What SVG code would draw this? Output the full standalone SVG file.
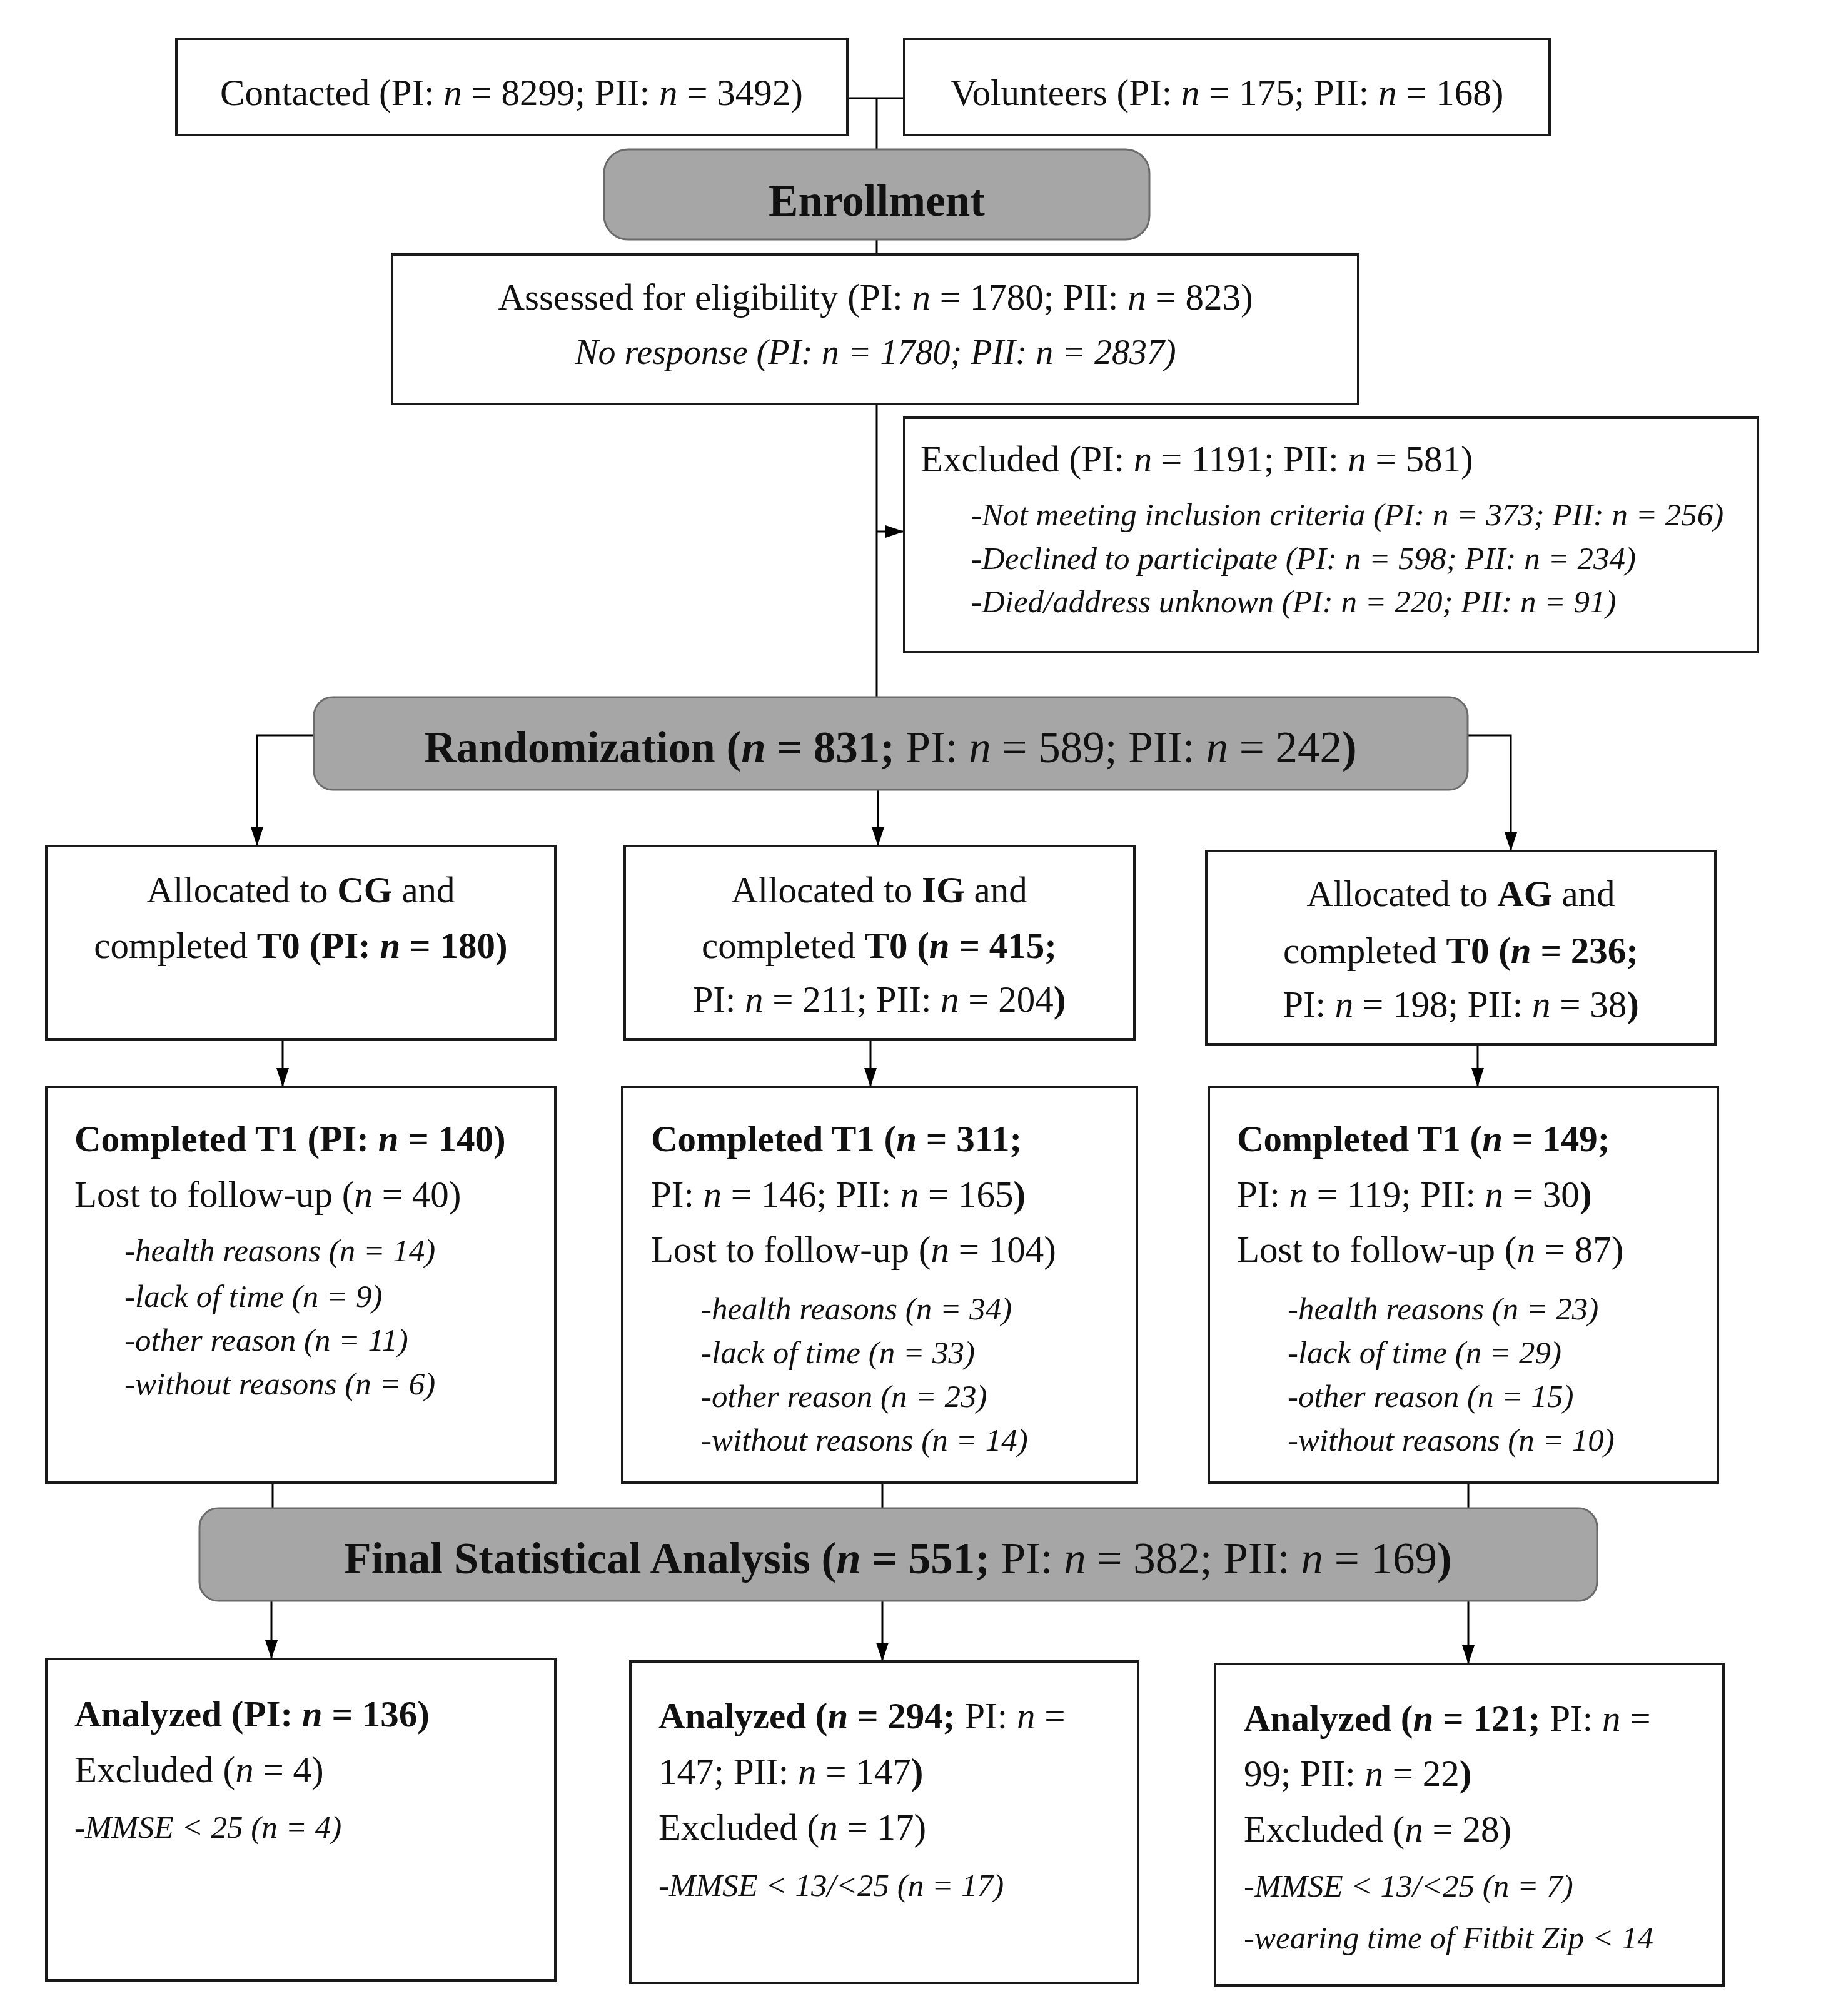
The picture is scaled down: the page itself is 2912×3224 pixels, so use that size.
<svg xmlns="http://www.w3.org/2000/svg" width="2912" height="3224" viewBox="0 0 2912 3224">
<style>
.box{fill:#fff;stroke:#1a1a1a;stroke-width:4}
.phase{fill:#a6a6a6;stroke:#6b6b6b;stroke-width:3}
.t{font-family:"Liberation Serif","Times New Roman",serif;font-size:59px;fill:#111}
.c{text-anchor:middle}
.s{font-size:51px;font-style:italic}
.h{font-size:71px;font-weight:bold}
.b{font-weight:bold}
.i{font-style:italic}
.r{font-weight:normal}
.ln{stroke:#000;stroke-width:3;fill:none}
.ar{marker-end:url(#arr)}
</style>
<defs>
<marker id="arr" viewBox="0 0 30 20" refX="30" refY="10" markerWidth="30" markerHeight="20" markerUnits="userSpaceOnUse" orient="auto">
<path d="M0,0 L30,10 L0,20 z" fill="#000"/>
</marker>
</defs>
<rect width="2912" height="3224" fill="#fff"/>
<g id="connectors">
<path class="ln" d="M1355,157 H1446"/>
<path class="ln" d="M1402,157 V1115"/>
<path class="ln ar" d="M1402,850 H1446"/>
<path class="ln ar" d="M1404,1263 V1353"/>
<path class="ln ar" d="M502,1176 H411 V1353"/>
<path class="ln ar" d="M2347,1176 H2416 V1361"/>
<path class="ln ar" d="M452,1662 V1738"/>
<path class="ln ar" d="M1392,1662 V1738"/>
<path class="ln ar" d="M2363,1670 V1738"/>
<path class="ln" d="M436,2371 V2412"/>
<path class="ln" d="M1411,2371 V2412"/>
<path class="ln" d="M2348,2371 V2412"/>
<path class="ln ar" d="M434,2560 V2653"/>
<path class="ln ar" d="M1411,2560 V2657"/>
<path class="ln ar" d="M2348,2560 V2661"/>
</g>
<g id="contacted">
<rect class="box" x="282" y="62" width="1073" height="154"/>
<text class="t c" x="818" y="168">Contacted (PI: <tspan class="i">n</tspan> = 8299; PII: <tspan class="i">n</tspan> = 3492)</text>
</g>
<g id="volunteers">
<rect class="box" x="1446" y="62" width="1032" height="154"/>
<text class="t c" x="1962" y="168">Volunteers (PI: <tspan class="i">n</tspan> = 175; PII: <tspan class="i">n</tspan> = 168)</text>
</g>
<g id="enrollment">
<rect class="phase" x="966" y="239" width="872" height="144" rx="38"/>
<text class="t c h" x="1402" y="345">Enrollment</text>
</g>
<g id="assessed">
<rect class="box" x="627" y="407" width="1545" height="239"/>
<text class="t c" x="1400" y="495">Assessed for eligibility (PI: <tspan class="i">n</tspan> = 1780; PII: <tspan class="i">n</tspan> = 823)</text>
<text class="t c i" x="1400" y="582" style="font-size:56px">No response (PI: n = 1780; PII: n = 2837)</text>
</g>
<g id="excluded">
<rect class="box" x="1446" y="668" width="1365" height="375"/>
<text class="t" x="1472" y="754">Excluded (PI: <tspan class="i">n</tspan> = 1191; PII: <tspan class="i">n</tspan> = 581)</text>
<text class="t s" x="1553" y="840">-Not meeting inclusion criteria (PI: n = 373; PII: n = 256)</text>
<text class="t s" x="1553" y="910">-Declined to participate (PI: n = 598; PII: n = 234)</text>
<text class="t s" x="1553" y="979">-Died/address unknown (PI: n = 220; PII: n = 91)</text>
</g>
<g id="randomization">
<rect class="phase" x="502" y="1115" width="1845" height="148" rx="30"/>
<text class="t c h" x="1424" y="1219">Randomization (<tspan class="i">n</tspan> = 831; <tspan class="r">PI: <tspan class="i">n</tspan> = 589; PII: <tspan class="i">n</tspan> = 242</tspan>)</text>
</g>
<g id="cg-t0">
<rect class="box" x="74" y="1353" width="814" height="309"/>
<text class="t c" x="481" y="1443">Allocated to <tspan class="b">CG</tspan> and</text>
<text class="t c" x="481" y="1532">completed <tspan class="b">T0 (PI: <tspan class="i">n</tspan> = 180)</tspan></text>
</g>
<g id="ig-t0">
<rect class="box" x="999" y="1353" width="815" height="309"/>
<text class="t c" x="1406" y="1443">Allocated to <tspan class="b">IG</tspan> and</text>
<text class="t c" x="1406" y="1532">completed <tspan class="b">T0 (<tspan class="i">n</tspan> = 415;</tspan></text>
<text class="t c" x="1406" y="1618">PI: <tspan class="i">n</tspan> = 211; PII: <tspan class="i">n</tspan> = 204<tspan class="b">)</tspan></text>
</g>
<g id="ag-t0">
<rect class="box" x="1929" y="1361" width="814" height="309"/>
<text class="t c" x="2336" y="1449">Allocated to <tspan class="b">AG</tspan> and</text>
<text class="t c" x="2336" y="1540">completed <tspan class="b">T0 (<tspan class="i">n</tspan> = 236;</tspan></text>
<text class="t c" x="2336" y="1626">PI: <tspan class="i">n</tspan> = 198; PII: <tspan class="i">n</tspan> = 38<tspan class="b">)</tspan></text>
</g>
<g id="cg-t1">
<rect class="box" x="74" y="1738" width="814" height="633"/>
<text class="t b" x="119" y="1841">Completed T1 (PI: <tspan class="i">n</tspan> = 140)</text>
<text class="t" x="119" y="1930">Lost to follow-up (<tspan class="i">n</tspan> = 40)</text>
<text class="t s" x="199" y="2017">-health reasons (n = 14)</text>
<text class="t s" x="199" y="2090">-lack of time (n = 9)</text>
<text class="t s" x="199" y="2160">-other reason (n = 11)</text>
<text class="t s" x="199" y="2230">-without reasons (n = 6)</text>
</g>
<g id="ig-t1">
<rect class="box" x="995" y="1738" width="823" height="633"/>
<text class="t b" x="1041" y="1841">Completed T1 (<tspan class="i">n</tspan> = 311;</text>
<text class="t" x="1041" y="1930">PI: <tspan class="i">n</tspan> = 146; PII: <tspan class="i">n</tspan> = 165<tspan class="b">)</tspan></text>
<text class="t" x="1041" y="2018">Lost to follow-up (<tspan class="i">n</tspan> = 104)</text>
<text class="t s" x="1121" y="2110">-health reasons (n = 34)</text>
<text class="t s" x="1121" y="2180">-lack of time (n = 33)</text>
<text class="t s" x="1121" y="2250">-other reason (n = 23)</text>
<text class="t s" x="1121" y="2320">-without reasons (n = 14)</text>
</g>
<g id="ag-t1">
<rect class="box" x="1933" y="1738" width="814" height="633"/>
<text class="t b" x="1978" y="1841">Completed T1 (<tspan class="i">n</tspan> = 149;</text>
<text class="t" x="1978" y="1930">PI: <tspan class="i">n</tspan> = 119; PII: <tspan class="i">n</tspan> = 30<tspan class="b">)</tspan></text>
<text class="t" x="1978" y="2018">Lost to follow-up (<tspan class="i">n</tspan> = 87)</text>
<text class="t s" x="2059" y="2110">-health reasons (n = 23)</text>
<text class="t s" x="2059" y="2180">-lack of time (n = 29)</text>
<text class="t s" x="2059" y="2250">-other reason (n = 15)</text>
<text class="t s" x="2059" y="2320">-without reasons (n = 10)</text>
</g>
<g id="final">
<rect class="phase" x="319" y="2412" width="2235" height="148" rx="30"/>
<text class="t c h" x="1436" y="2516">Final Statistical Analysis (<tspan class="i">n</tspan> = 551; <tspan class="r">PI: <tspan class="i">n</tspan> = 382; PII: <tspan class="i">n</tspan> = 169</tspan>)</text>
</g>
<g id="cg-analyzed">
<rect class="box" x="74" y="2653" width="814" height="514"/>
<text class="t b" x="119" y="2761">Analyzed (PI: <tspan class="i">n</tspan> = 136)</text>
<text class="t" x="119" y="2850">Excluded (<tspan class="i">n</tspan> = 4)</text>
<text class="t s" x="119" y="2939">-MMSE &lt; 25 (n = 4)</text>
</g>
<g id="ig-analyzed">
<rect class="box" x="1008" y="2657" width="812" height="514"/>
<text class="t" x="1053" y="2764"><tspan class="b">Analyzed (<tspan class="i">n</tspan> = 294;</tspan> PI: <tspan class="i">n</tspan> =</text>
<text class="t" x="1053" y="2853">147; PII: <tspan class="i">n</tspan> = 147<tspan class="b">)</tspan></text>
<text class="t" x="1053" y="2942">Excluded (<tspan class="i">n</tspan> = 17)</text>
<text class="t s" x="1053" y="3032">-MMSE &lt; 13/&lt;25 (n = 17)</text>
</g>
<g id="ag-analyzed">
<rect class="box" x="1943" y="2661" width="813" height="514"/>
<text class="t" x="1989" y="2768"><tspan class="b">Analyzed (<tspan class="i">n</tspan> = 121;</tspan> PI: <tspan class="i">n</tspan> =</text>
<text class="t" x="1989" y="2856">99; PII: <tspan class="i">n</tspan> = 22<tspan class="b">)</tspan></text>
<text class="t" x="1989" y="2945">Excluded (<tspan class="i">n</tspan> = 28)</text>
<text class="t s" x="1989" y="3033">-MMSE &lt; 13/&lt;25 (n = 7)</text>
<text class="t s" x="1989" y="3116">-wearing time of Fitbit Zip &lt; 14</text>
</g>
</svg>
